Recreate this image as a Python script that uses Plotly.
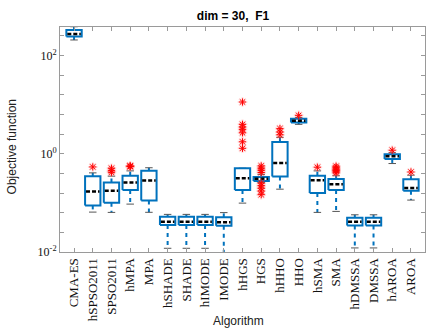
import plotly.graph_objects as go
import numpy as np

algorithms = ["CMA-ES", "hSPSO2011", "SPSO2011", "hMPA", "MPA", "hSHADE", "SHADE",
              "hIMODE", "IMODE", "hHGS", "HGS", "hHHO", "HHO", "hSMA", "SMA",
              "hDMSSA", "DMSSA", "hAROA", "AROA"]

# box-plot statistics per algorithm
whisker_low = [207, 0.0649, 0.064, 0.0944, 0.0643, 0.0119, 0.0119, 0.0119, 0.007,
               0.0989, 0.26, 0.190, 3.97, 0.064, 0.067, 0.0121, 0.0121, 0.632, 0.114]
q1 = [245, 0.0888, 0.100, 0.182, 0.112, 0.0353, 0.0353, 0.0353, 0.0342,
      0.182, 0.280, 0.346, 4.32, 0.159, 0.182, 0.0345, 0.0345, 0.784, 0.177]
median = [274, 0.171, 0.176, 0.260, 0.287, 0.0412, 0.0412, 0.0412, 0.0401,
          0.318, 0.308, 0.650, 4.72, 0.290, 0.240, 0.0412, 0.0412, 0.890, 0.201]
q3 = [330, 0.349, 0.260, 0.357, 0.452, 0.0521, 0.0521, 0.0521, 0.0507,
      0.508, 0.338, 1.74, 5.18, 0.357, 0.306, 0.0497, 0.0497, 0.977, 0.304]
whisker_high = [385, 0.408, 0.350, 0.448, 0.519, 0.0583, 0.0583, 0.0583, 0.0634,
                0.508, 0.38, 2.16, 5.5, 0.448, 0.357, 0.0572, 0.0572, 1.05, 0.366]
outliers = [
    [], [0.539], [0.508, 0.452, 0.42], [0.557, 0.545, 0.565], [], [], [], [], [],
    [11.3, 3.97, 3.50, 3.14, 2.67, 1.75, 1.29],
    [0.565, 0.508, 0.46, 0.415, 0.252, 0.224, 0.199, 0.174, 0.147],
    [3.25, 2.77, 2.43], [6.05], [0.532],
    [0.557, 0.52, 0.485, 0.46, 0.44, 0.41], [], [], [1.18], [0.425],
]

y_major = [-2, 0, 2]
y_minor = [-1.6, -1.2, -0.8, -0.4, 0.4, 0.8, 1.2, 1.6, 2.4]

BLUE = "#0072BD"
half_w = 0.41
cap_w = 0.2

def segs(pairs):
    xs, ys = [], []
    for (x0, x1, y0, y1) in pairs:
        xs += [x0, x1, None]
        ys += [y0, y1, None]
    return xs, ys

n = len(algorithms)
fig = go.Figure()

# whiskers (dashed)
wx, wy = segs([(i, i, q3[i], whisker_high[i]) for i in range(n)] +
              [(i, i, q1[i], whisker_low[i]) for i in range(n)])
fig.add_trace(go.Scatter(x=wx, y=wy, mode="lines",
                         line=dict(color=BLUE, width=2, dash="4px,4px"),
                         hoverinfo="skip", showlegend=False))

# whisker caps
cx, cy = segs([(i - cap_w, i + cap_w, whisker_high[i], whisker_high[i]) for i in range(n)] +
              [(i - cap_w, i + cap_w, whisker_low[i], whisker_low[i]) for i in range(n)])
fig.add_trace(go.Scatter(x=cx, y=cy, mode="lines",
                         line=dict(color="#555555", width=1),
                         hoverinfo="skip", showlegend=False))

# boxes
bx, by = [], []
for i in range(n):
    bx += [i - half_w, i + half_w, i + half_w, i - half_w, i - half_w, None]
    by += [q1[i], q1[i], q3[i], q3[i], q1[i], None]
fig.add_trace(go.Scatter(x=bx, y=by, mode="lines",
                         line=dict(color=BLUE, width=2),
                         hoverinfo="skip", showlegend=False))

# medians
mx, my = segs([(i - half_w + 0.05, i + half_w - 0.05, median[i], median[i]) for i in range(n)])
fig.add_trace(go.Scatter(x=mx, y=my, mode="lines",
                         line=dict(color="black", width=2.5, dash="4px,2px"),
                         hoverinfo="skip", showlegend=False))

# outliers: soft halo plus thin red asterisk
ox, oy = [], []
for i, vals in enumerate(outliers):
    ox += [i] * len(vals)
    oy += vals
fig.add_trace(go.Scatter(x=ox, y=oy, mode="markers",
                         marker=dict(symbol="asterisk-open", size=8, color="rgba(255,100,100,0.25)",
                                     line=dict(color="rgba(255,100,100,0.25)", width=2)),
                         hoverinfo="skip", showlegend=False))
fig.add_trace(go.Scatter(x=ox, y=oy, mode="markers",
                         marker=dict(symbol="asterisk-open", size=6, color="#ff0000",
                                     line=dict(color="#ff0000", width=1)),
                         hoverinfo="skip", showlegend=False))

axis_col = "#9a9a9a"
fig.update_xaxes(range=[-0.75, 18.75], tickmode="array",
                 tickvals=list(range(n)), ticktext=algorithms,
                 tickangle=-90, ticks="inside", ticklen=4, tickcolor=axis_col,
                 showline=True, linecolor=axis_col, linewidth=1, mirror="ticks",
                 showgrid=False, zeroline=False,
                 tickfont=dict(family="Liberation Serif", size=13, color="#111111"))
fig.update_yaxes(type="log", range=[-2, 2.58], tickmode="array",
                 tickvals=[10 ** v for v in y_major],
                 ticktext=["10<sup>%d</sup>" % v for v in y_major],
                 ticks="inside", ticklen=4, tickcolor=axis_col,
                 minor=dict(tickmode="array", tickvals=[10 ** v for v in y_minor],
                            ticks="inside", ticklen=4, tickcolor=axis_col, showgrid=False),
                 showline=True, linecolor=axis_col, linewidth=1, mirror="ticks",
                 showgrid=False, zeroline=False,
                 tickfont=dict(family="Liberation Serif", size=12, color="#111111"))

fig.update_layout(
    width=426, height=328,
    margin=dict(l=60, r=1, t=27, b=76),
    paper_bgcolor="white", plot_bgcolor="white",
    title=dict(text="<b>dim = 30,&nbsp; F1</b>", x=0.474, xref="paper", xanchor="center",
               y=1 - 16 / 328, yref="container", yanchor="middle",
               font=dict(family="Liberation Sans", size=12, color="black")),
    annotations=[
        dict(text="Algorithm", x=0.49, y=-0.307, xref="paper", yref="paper",
             xanchor="center", yanchor="middle", showarrow=False,
             font=dict(family="Liberation Sans", size=12, color="#222222")),
        dict(text="Objective function", x=-0.129, y=0.469, xref="paper", yref="paper",
             xanchor="center", yanchor="middle", showarrow=False, textangle=-90,
             font=dict(family="Liberation Sans", size=12, color="#222222")),
    ],
)

fig.write_html("out.html")
